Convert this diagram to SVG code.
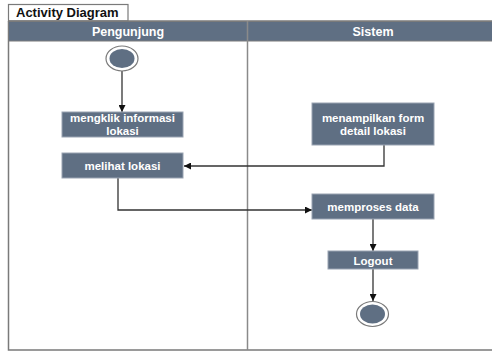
<svg xmlns="http://www.w3.org/2000/svg" width="492" height="351" viewBox="0 0 492 351">
<defs>
<style>
.frame{fill:none;stroke:#7a7a7a;stroke-width:1.5}
.hdr{fill:#5f6f83;stroke:#7a7a7a;stroke-width:1}
.hdrt{font-family:"Liberation Sans",Arial,sans-serif;font-weight:bold;font-size:12.5px;fill:#ffffff;text-anchor:middle}
.box{fill:#5f6f83;stroke:#9aa4b2;stroke-width:1}
.bt{font-family:"Liberation Sans",Arial,sans-serif;font-weight:bold;font-size:11.5px;fill:#ffffff;text-anchor:middle}
.edge{fill:none;stroke:#333333;stroke-width:1.3}
.outer{fill:#ffffff;stroke:#7a7a7a;stroke-width:1.2}
.inner{fill:#5f6f83;stroke:none}
</style>
<marker id="arr" viewBox="0 0 10 10" refX="10" refY="5" markerWidth="7" markerHeight="7" orient="auto" markerUnits="userSpaceOnUse">
<path d="M0,0 L10,5 L0,10 z" fill="#111111"/>
</marker>
</defs>
<rect x="0" y="0" width="492" height="351" fill="#ffffff"/>
<g id="frame">
<rect x="8.5" y="4.5" width="119.5" height="16.5" fill="#ffffff" stroke="#7a7a7a" stroke-width="1.2"/>
<text x="16" y="17" font-family="Liberation Sans,Arial,sans-serif" font-weight="bold" font-size="13" fill="#111111">Activity Diagram</text>
<path class="frame" d="M8.5,21 V350 H500"/>
<line x1="8.5" y1="21" x2="500" y2="21" stroke="#7a7a7a" stroke-width="1.5"/>
<rect class="hdr" x="8.5" y="21.5" width="492" height="19.5"/>
<line x1="247.5" y1="21" x2="247.5" y2="350" stroke="#8a8a8a" stroke-width="1.5"/>
<text class="hdrt" x="128" y="35.5">Pengunjung</text>
<text class="hdrt" x="373" y="35.5">Sistem</text>
</g>
<g id="connectors">
<path class="edge" d="M122,71 V112" marker-end="url(#arr)"/>
<path class="edge" d="M384,145 V166 H184" marker-end="url(#arr)"/>
<path class="edge" d="M118,178 V210 H312" marker-end="url(#arr)"/>
<path class="edge" d="M373,219 V251" marker-end="url(#arr)"/>
<path class="edge" d="M373,269 V301" marker-end="url(#arr)"/>
</g>
<g id="start">
<ellipse class="outer" cx="122" cy="58.5" rx="16" ry="12.5"/>
<ellipse class="inner" cx="122" cy="58.5" rx="12.5" ry="9.5"/>
</g>
<g id="mengklik">
<rect class="box" x="62" y="112" width="121" height="25"/>
<text class="bt" x="122.5" y="121.5">mengklik informasi</text>
<text class="bt" x="122.5" y="134.5">lokasi</text>
</g>
<g id="melihat">
<rect class="box" x="62" y="153" width="121" height="25"/>
<text class="bt" x="122.5" y="169.5">melihat lokasi</text>
</g>
<g id="menampilkan">
<rect class="box" x="312" y="103" width="122" height="42"/>
<text class="bt" x="373" y="121.5">menampilkan form</text>
<text class="bt" x="373" y="134.5">detail lokasi</text>
</g>
<g id="memproses">
<rect class="box" x="312" y="194" width="122" height="25"/>
<text class="bt" x="373" y="210.5">memproses data</text>
</g>
<g id="logout">
<rect class="box" x="328" y="251" width="90" height="18"/>
<text class="bt" x="373" y="264.5">Logout</text>
</g>
<g id="end">
<ellipse class="outer" cx="372.5" cy="314" rx="16" ry="12.5"/>
<ellipse class="inner" cx="372.5" cy="314" rx="12.5" ry="9.5"/>
</g>
</svg>
